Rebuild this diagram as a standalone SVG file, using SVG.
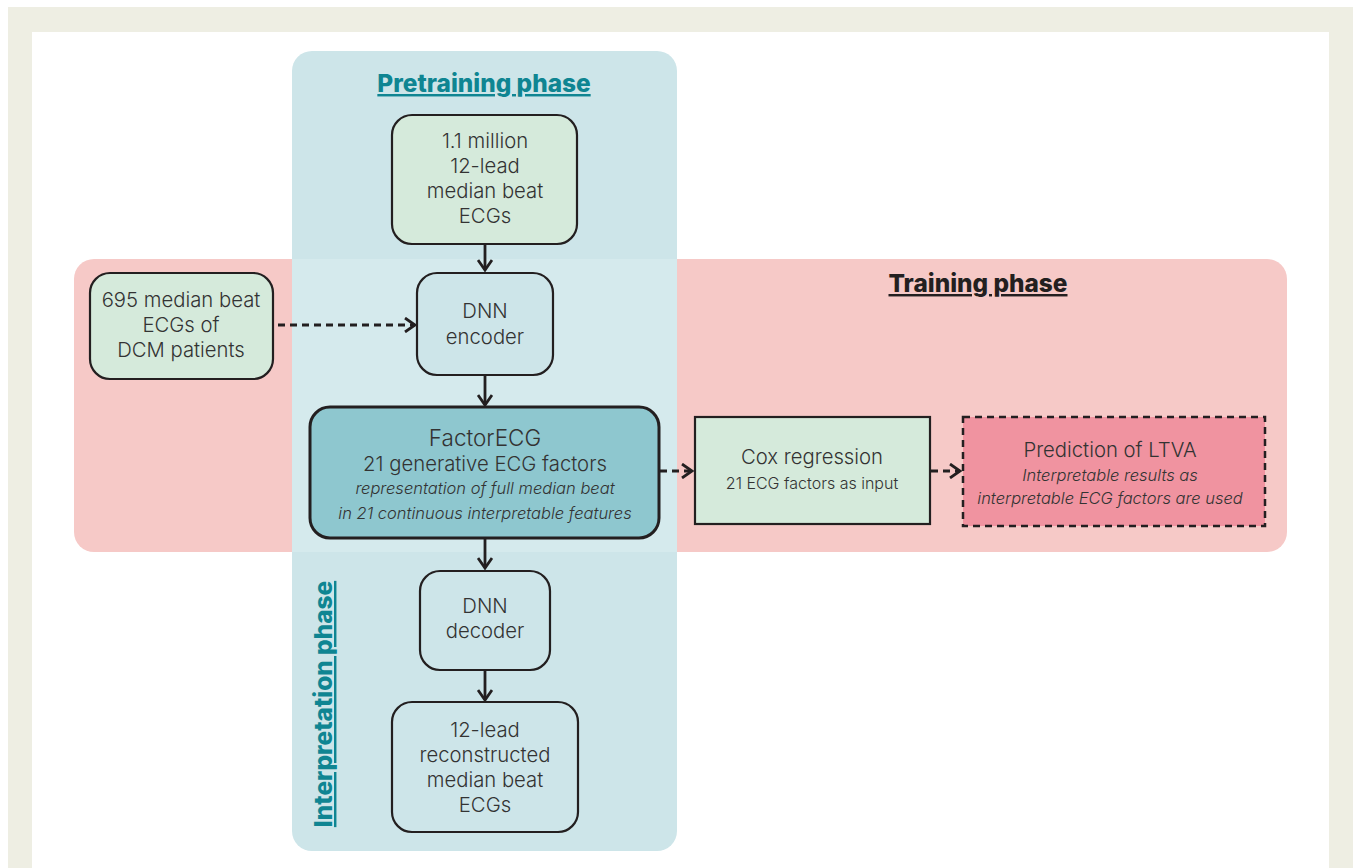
<svg xmlns="http://www.w3.org/2000/svg" width="1355" height="868" viewBox="0 0 1355 868">
<style>
.t{font-family:Inter,"Liberation Sans",sans-serif;font-weight:300;font-size:20.3px;fill:#333;text-anchor:middle}
.s{font-size:16px}
.i{font-style:italic;font-size:16.5px}
.h{font-family:Inter,"Liberation Sans",sans-serif;font-weight:800;font-size:24.4px;text-anchor:middle;text-decoration:underline}
.box{stroke:#231f20;stroke-width:2.2}
.ln{stroke:#231f20;stroke-width:2.8;fill:none}
.dl{stroke:#231f20;stroke-width:2.8;fill:none;stroke-dasharray:7 5}
</style>
<defs>
<marker id="ah" markerWidth="14" markerHeight="16" refX="11" refY="8" orient="auto" markerUnits="userSpaceOnUse">
<path d="M1,1 L11,8 L1,15" fill="none" stroke="#231f20" stroke-width="2.8"/>
</marker>
</defs>
<rect x="0" y="0" width="1355" height="868" fill="#ffffff"/>
<rect x="8" y="7" width="1345" height="861" fill="#eeeee3"/>
<rect x="32" y="32" width="1297" height="836" fill="#ffffff"/>
<g id="phases">
<rect x="292" y="51" width="385" height="800" rx="20" fill="#cde5e9"/>
<rect x="74" y="259" width="1213" height="293" rx="20" fill="#f6c9c7"/>
<rect x="292" y="259" width="385" height="293" fill="#d5eaed"/>
<text class="h" x="484" y="92" fill="#0f8592">Pretraining phase</text>
<text class="h" x="978" y="292" fill="#231f20">Training phase</text>
<text class="h" transform="translate(332,704) rotate(-90)" fill="#0f8592">Interpretation phase</text>
</g>
<g id="connectors">
<line class="ln" x1="485" y1="244" x2="485" y2="270" marker-end="url(#ah)"/>
<line class="ln" x1="485" y1="376" x2="485" y2="405" marker-end="url(#ah)"/>
<line class="ln" x1="485" y1="539" x2="485" y2="568" marker-end="url(#ah)"/>
<line class="ln" x1="485" y1="671" x2="485" y2="700" marker-end="url(#ah)"/>
<line class="dl" x1="278" y1="325" x2="415" y2="325" marker-end="url(#ah)"/>
<line class="dl" x1="660" y1="471" x2="692" y2="471" marker-end="url(#ah)"/>
<line class="dl" x1="931" y1="471" x2="960" y2="471" marker-end="url(#ah)"/>
</g>
<g id="n-pretrain">
<rect class="box" x="392" y="115" width="185" height="129" rx="20" fill="#d5eadb"/>
<text class="t" x="485" y="148">1.1 million</text>
<text class="t" x="485" y="173">12-lead</text>
<text class="t" x="485" y="198">median beat</text>
<text class="t" x="485" y="223">ECGs</text>
</g>
<g id="n-encoder">
<rect class="box" x="417" y="273" width="136" height="102" rx="20" fill="#cde5e9"/>
<text class="t" x="485" y="318">DNN</text>
<text class="t" x="485" y="344">encoder</text>
</g>
<g id="n-dcm">
<rect class="box" x="90" y="273" width="183" height="106" rx="20" fill="#d5eadb"/>
<text class="t" x="181" y="307">695 median beat</text>
<text class="t" x="181" y="332">ECGs of</text>
<text class="t" x="181" y="357">DCM patients</text>
</g>
<g id="n-factor">
<rect x="310" y="407" width="349" height="131" rx="20" fill="#8ec7cf" stroke="#231f20" stroke-width="3"/>
<text class="t" x="485" y="446" style="font-size:22.5px">FactorECG</text>
<text class="t" x="485" y="471">21 generative ECG factors</text>
<text class="t i" x="485" y="494">representation of full median beat</text>
<text class="t i" x="485" y="519">in 21 continuous interpretable features</text>
</g>
<g id="n-cox">
<rect class="box" x="695" y="417" width="235" height="107" fill="#d5eadb"/>
<text class="t" x="812" y="464">Cox regression</text>
<text class="t s" x="812" y="489">21 ECG factors as input</text>
</g>
<g id="n-pred">
<rect x="963" y="417" width="302" height="109" fill="#f093a0" stroke="#231f20" stroke-width="2.5" stroke-dasharray="7 5"/>
<text class="t" x="1110" y="457">Prediction of LTVA</text>
<text class="t i" x="1110" y="481">Interpretable results as</text>
<text class="t i" x="1110" y="504">interpretable ECG factors are used</text>
</g>
<g id="n-decoder">
<rect class="box" x="420" y="571" width="130" height="99" rx="20" fill="#cde5e9"/>
<text class="t" x="485" y="613">DNN</text>
<text class="t" x="485" y="638">decoder</text>
</g>
<g id="n-recon">
<rect class="box" x="392" y="702" width="186" height="130" rx="20" fill="#cde5e9"/>
<text class="t" x="485" y="737">12-lead</text>
<text class="t" x="485" y="762">reconstructed</text>
<text class="t" x="485" y="787">median beat</text>
<text class="t" x="485" y="812">ECGs</text>
</g>
</svg>
